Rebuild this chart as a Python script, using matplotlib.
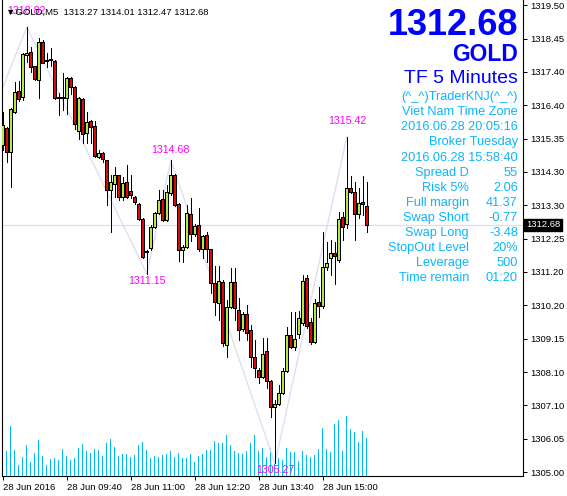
import matplotlib
matplotlib.use("Agg")
import matplotlib.pyplot as plt
from matplotlib.patches import Rectangle
import numpy as np

plt.rcParams['font.family'] = ['Liberation Sans', 'DejaVu Sans']

W, H, DPI = 567, 496, 100

symbol = "GOLD"
timeframe = "M5"

opens = [
    1315.16, 1315.69, 1314.94, 1316.18, 1316.83, 1316.65, 1317.95, 1318.05, 1317.61, 1317.18,
    1318.36, 1317.77, 1317.83, 1317.77, 1316.62, 1316.65, 1316.62, 1317.24, 1316.96, 1315.60,
    1316.59, 1315.53, 1315.90, 1315.75, 1314.79, 1314.91, 1314.69, 1313.76, 1313.95, 1314.23,
    1313.54, 1314.01, 1313.73, 1313.54, 1313.33, 1312.86, 1311.84, 1311.96, 1312.61, 1313.05,
    1313.48, 1312.83, 1313.67, 1314.23, 1313.33, 1311.90, 1311.99, 1313.01, 1312.39, 1312.67,
    1311.93, 1312.36, 1311.93, 1310.87, 1310.25, 1310.90, 1308.95, 1310.13, 1310.90, 1310.03,
    1309.44, 1309.91, 1309.41, 1308.58, 1308.17, 1307.95, 1308.76, 1307.83, 1307.02, 1307.11,
    1307.45, 1308.14, 1309.26, 1308.89, 1309.29, 1309.63, 1311.03, 1309.66, 1309.04, 1310.28,
    1310.16, 1311.37, 1311.65, 1311.80, 1311.59, 1312.92, 1312.70, 1313.82, 1313.70, 1313.01,
    1313.39, 1313.27]
highs = [
    1316.18, 1315.72, 1316.31, 1317.11, 1317.15, 1318.02, 1318.82, 1318.20, 1317.61, 1318.48,
    1318.42, 1318.02, 1318.17, 1317.80, 1316.77, 1317.39, 1317.27, 1317.27, 1316.99, 1316.65,
    1316.62, 1316.18, 1315.93, 1315.90, 1315.00, 1314.94, 1314.69, 1314.23, 1314.48, 1314.23,
    1314.16, 1314.54, 1314.23, 1313.57, 1313.36, 1312.89, 1311.90, 1312.67, 1313.08, 1313.76,
    1313.76, 1313.92, 1314.68, 1314.26, 1313.36, 1312.05, 1313.30, 1313.51, 1312.70, 1313.20,
    1312.36, 1312.45, 1311.93, 1311.40, 1311.40, 1310.97, 1310.34, 1311.34, 1311.34, 1310.41,
    1309.97, 1310.19, 1309.57, 1309.10, 1308.23, 1309.16, 1309.16, 1307.86, 1307.24, 1307.70,
    1308.23, 1309.50, 1309.97, 1309.97, 1310.00, 1311.12, 1311.12, 1309.79, 1310.38, 1310.75,
    1312.45, 1312.15, 1312.21, 1312.15, 1313.08, 1313.08, 1315.42, 1314.20, 1314.01, 1313.82,
    1314.20, 1314.01]
lows = [
    1315.00, 1314.63, 1313.85, 1316.15, 1316.52, 1316.56, 1317.74, 1317.42, 1317.18, 1316.62,
    1317.70, 1317.58, 1317.61, 1316.59, 1316.09, 1316.24, 1316.12, 1316.74, 1315.66, 1315.34,
    1315.22, 1315.22, 1315.22, 1314.79, 1314.75, 1314.63, 1313.30, 1312.45, 1313.54, 1313.45,
    1313.45, 1313.51, 1313.51, 1313.33, 1312.83, 1311.65, 1311.15, 1311.90, 1312.58, 1313.01,
    1312.80, 1312.80, 1313.61, 1313.26, 1311.56, 1311.52, 1311.96, 1312.18, 1312.33, 1311.86,
    1311.65, 1311.52, 1310.56, 1309.88, 1309.72, 1308.92, 1308.58, 1310.10, 1309.72, 1309.10,
    1309.38, 1309.10, 1308.26, 1307.95, 1307.77, 1307.92, 1307.61, 1306.71, 1305.27, 1307.08,
    1307.42, 1308.11, 1308.86, 1308.79, 1309.16, 1309.57, 1309.47, 1308.98, 1309.01, 1309.82,
    1310.10, 1311.28, 1311.12, 1310.84, 1311.52, 1312.21, 1312.58, 1313.67, 1312.21, 1312.89,
    1312.98, 1312.47]
closes = [
    1315.78, 1314.94, 1316.27, 1316.80, 1316.59, 1317.98, 1318.02, 1317.58, 1317.21, 1318.36,
    1317.70, 1317.80, 1317.80, 1316.62, 1316.65, 1316.62, 1317.24, 1316.96, 1315.81, 1316.62,
    1315.50, 1315.87, 1315.72, 1314.82, 1314.91, 1314.72, 1313.76, 1314.01, 1314.23, 1313.54,
    1313.98, 1313.54, 1313.61, 1313.39, 1312.86, 1311.68, 1311.87, 1312.61, 1313.05, 1313.45,
    1312.83, 1313.70, 1314.23, 1313.30, 1311.90, 1311.99, 1313.05, 1312.39, 1312.64, 1311.93,
    1312.33, 1311.93, 1310.87, 1310.28, 1310.93, 1309.01, 1310.13, 1310.90, 1310.10, 1309.41,
    1309.91, 1309.32, 1308.58, 1308.23, 1307.95, 1308.67, 1307.83, 1307.02, 1307.11, 1307.45,
    1308.14, 1309.26, 1308.89, 1309.13, 1309.79, 1310.93, 1309.54, 1309.04, 1310.25, 1310.16,
    1311.37, 1311.49, 1311.80, 1311.71, 1312.86, 1312.61, 1313.82, 1313.70, 1313.01, 1313.36,
    1313.33, 1312.68]
volumes = [
    67, 75, 147, 78, 33, 57, 90, 42, 69, 105,
    60, 33, 51, 54, 48, 81, 60, 48, 54, 84,
    93, 75, 69, 80, 78, 60, 96, 108, 87, 60,
    66, 64, 57, 63, 90, 99, 78, 52, 60, 57,
    63, 66, 75, 57, 69, 54, 54, 66, 42, 60,
    66, 78, 78, 102, 96, 96, 120, 90, 75, 69,
    66, 75, 97, 120, 73, 84, 57, 84, 36, 52,
    48, 84, 70, 72, 45, 75, 63, 57, 63, 81,
    141, 81, 72, 153, 165, 75, 177, 138, 129, 99,
    132, 111]

x_tick_bars = [0, 16, 32, 48, 64, 80]
x_tick_labels = ["28 Jun 2016", "28 Jun 09:40", "28 Jun 11:00",
                 "28 Jun 12:20", "28 Jun 13:40", "28 Jun 15:00"]
y_tick_labels = ["1305.00", "1306.05", "1307.10", "1308.10", "1309.15", "1310.20",
                 "1311.20", "1312.25", "1313.30", "1314.30", "1315.35", "1316.40",
                 "1317.40", "1318.45", "1319.50"]
y_min_label, y_max_label = 1305.00, 1319.50

zz_bars = [0, 6, 36, 42, 68, 86]
zz_prices = [1316.96, 1318.82, 1311.15, 1314.68, 1305.27, 1315.42]

bid = 1312.68
title_lines = ["1312.68", "GOLD", "TF 5 Minutes"]
info_single = ["(^_^)TraderKNJ(^_^)", "Viet Nam Time Zone", "2016.06.28 20:05:16",
               "Broker Tuesday", "2016.06.28 15:58:40"]
info_labels = ["Spread D", "Risk 5%", "Full margin", "Swap Short", "Swap Long",
               "StopOut Level", "Leverage", "Time remain"]
info_values = ["55", "2.06", "41.37", "-0.77", "-3.48", "20%", "500", "01:20"]

# ---------------- style ----------------
BULL = '#B4E84A'
BEAR = '#D40C0C'
VOLC = '#00BAF8'
CYAN = '#0DB4FA'
BLUE = '#0000FF'
MAG = '#FF00FF'
LAV = '#DCDCF4'
PX = 72.0 / DPI  # points per pixel

fig = plt.figure(figsize=(W / DPI, H / DPI), dpi=DPI)
fig.patch.set_facecolor('white')

ax_left, ax_right, ax_top, ax_bottom = 2, 523, 0, 476
rect = [ax_left / W, 1 - ax_bottom / H, (ax_right - ax_left) / W, (ax_bottom - ax_top) / H]

axv = fig.add_axes(rect, zorder=0)
ax = fig.add_axes(rect, zorder=1, sharex=axv)
ax.patch.set_alpha(0)

n = len(closes)
idx = np.arange(n)
bar_px = 4.0
x0 = (ax_left - 2.9) / bar_px
x1 = x0 + (ax_right - ax_left) / bar_px
px_per_price = 32.2
y_top = 1316.40 + (105 - ax_top) / px_per_price
y_bot = 1316.40 - (ax_bottom - 105) / px_per_price

# volume (1 px wide bars)
axv.bar(idx, volumes, width=1.05 / bar_px, color=VOLC, linewidth=0, antialiased=False)
axv.set_ylim(0, max(volumes) * (ax_bottom - ax_top) / 60.0)
axv.set_xlim(x0, x1)
axv.axis('off')

# bid line and zigzag
ax.axhline(bid, color=LAV, lw=1.2 * PX, zorder=1)
ax.plot(zz_bars, zz_prices, color=LAV, lw=1.3 * PX, zorder=1.5)

# candles
ax.vlines(idx, lows, highs, color='black', lw=1.0 * PX, zorder=2, antialiased=False)
bw = 0.72
for i in range(n):
    o, c = opens[i], closes[i]
    lo, hi = min(o, c), max(o, c)
    hgt = max(hi - lo, 0.035)
    col = BULL if c >= o else BEAR
    ax.add_patch(Rectangle((i - bw / 2, lo), bw, hgt, facecolor=col,
                           edgecolor='black', lw=1.0 * PX, zorder=3, antialiased=False))

ax.set_xlim(x0, x1)
ax.set_ylim(y_bot, y_top)

# spines
for s in ['left', 'bottom', 'right']:
    ax.spines[s].set_color('black')
    ax.spines[s].set_linewidth(1.1 * PX)
ax.spines['top'].set_visible(False)

ax.yaxis.tick_right()
ax.set_yticks(np.linspace(y_min_label, y_max_label, len(y_tick_labels)))
ax.set_yticklabels(y_tick_labels)
ax.tick_params(axis='y', which='both', direction='out', length=3 * PX * 1.4,
               width=1.0 * PX, pad=2.5, labelsize=6.8, colors='black', left=False)
ax.set_xticks(x_tick_bars)
ax.set_xticklabels(x_tick_labels, ha='left')
ax.tick_params(axis='x', direction='out', length=3 * PX * 1.4, width=1.0 * PX,
               pad=2.0, labelsize=6.8)
for lab in ax.get_xticklabels():
    lab.set_horizontalalignment('left')

# bid price box on the axis
ax.text(1.0 + 3 / (ax_right - ax_left), bid, f"{bid:.2f}", transform=ax.get_yaxis_transform(),
        ha='left', va='center', color='white', fontsize=6.8, zorder=5,
        bbox=dict(boxstyle='square,pad=0.18', fc='black', ec='black'), clip_on=False)

# pivot labels
label_off = [16, 7, 10, 7, 16]
for k in range(1, len(zz_bars)):
    b, p = zz_bars[k], zz_prices[k]
    is_high = p >= max(highs[max(0, b - 1):b + 2])
    off = label_off[k - 1]
    dy = off if is_high else -off
    ax.annotate(f"{p:.2f}", xy=(b, p), xytext=(0, dy * PX), textcoords='offset points',
                ha='center', va='center', color=MAG, fontsize=7.7, zorder=6,
                annotation_clip=False)


def ftext(x, y, s, **kw):
    fig.text(x / W, 1 - y / H, s, **kw)


# header
ftext(6, 14.5, f"\u25BC{symbol},{timeframe}  {opens[-1]:.2f} {highs[-1]:.2f} "
      f"{lows[-1]:.2f} {closes[-1]:.2f}", fontsize=6.8, color='black', va='baseline',
      ha='left', zorder=10)

# big titles
ftext(518, 35, title_lines[0], fontsize=26.0, fontweight='bold', color=BLUE,
      ha='right', va='baseline')
ftext(518, 61, title_lines[1], fontsize=16.5, fontweight='bold', color=BLUE,
      ha='right', va='baseline')
ftext(518, 83, title_lines[2], fontsize=14.0, color=BLUE, ha='right', va='baseline')

line_h = 15.08
y0 = 100.2
for k, s in enumerate(info_single):
    ftext(518, y0 + k * line_h, s, fontsize=9.2, color=CYAN, ha='right', va='baseline')
for k, (lab, val) in enumerate(zip(info_labels, info_values)):
    yy = y0 + (k + len(info_single)) * line_h
    ftext(469, yy, lab, fontsize=9.2, color=CYAN, ha='right', va='baseline')
    ftext(518, yy, val, fontsize=9.2, color=CYAN, ha='right', va='baseline')

fig.savefig("out.png", dpi=DPI)
